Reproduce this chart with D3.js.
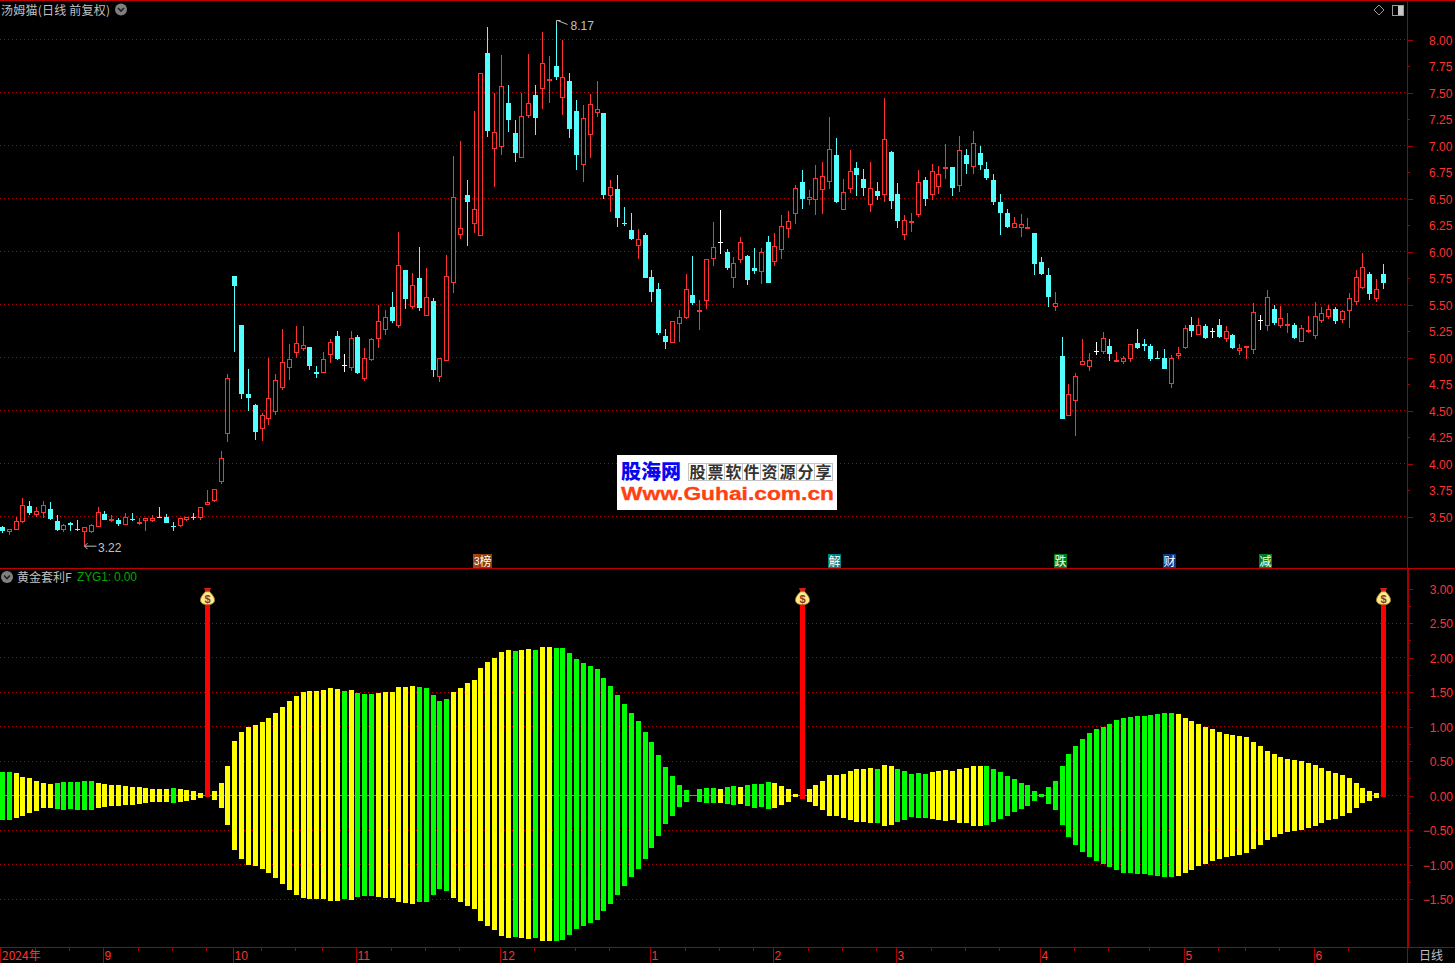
<!DOCTYPE html>
<html lang="zh">
<head>
<meta charset="utf-8">
<title>汤姆猫 黄金套利F</title>
<script src="https://cdn.jsdelivr.net/npm/d3@7/dist/d3.min.js"></script>
<style>
html,body{margin:0;padding:0;background:#000;overflow:hidden}
svg{display:block}
text{font-family:"Liberation Sans",Arial,sans-serif}
.cjk{font-family:"Noto Sans CJK SC","Noto Sans",sans-serif}
</style>
</head>
<body>
<script>
const candleOpen=[
3.40,3.35,3.37,3.45,3.60,3.51,3.53,3.57,3.46,3.37,
3.44,3.38,3.35,3.35,3.40,3.52,3.46,3.47,3.42,3.48,
3.44,3.46,3.46,3.50,3.50,3.41,3.41,3.47,3.50,3.49,
3.61,3.65,3.83,4.28,5.77,5.31,4.66,4.55,4.33,4.42,
4.49,4.71,4.90,5.04,5.08,5.10,4.86,4.85,5.02,5.20,
4.93,4.90,5.19,4.80,4.98,5.17,5.26,5.48,5.30,5.83,
5.48,5.75,5.39,5.53,4.82,4.97,5.70,6.16,6.53,6.26,
6.15,7.87,6.97,6.99,7.40,7.12,6.88,7.28,7.48,7.53,
7.61,7.75,7.45,7.61,7.33,6.82,7.10,7.31,7.31,6.52,
6.59,6.27,6.20,6.05,6.16,5.76,5.65,5.20,5.14,5.32,
5.37,5.59,5.43,5.53,5.93,6.09,6.00,5.75,5.92,5.96,
5.84,5.81,6.09,5.90,6.01,6.21,6.35,6.66,6.49,6.49,
6.58,6.66,6.91,6.39,6.59,6.79,6.68,6.44,6.57,6.53,
6.94,6.54,6.16,6.27,6.34,6.67,6.53,6.61,6.78,6.80,
6.62,6.91,6.80,6.93,6.78,6.67,6.47,6.36,6.22,6.22,
6.21,6.17,5.90,5.78,5.48,5.01,4.45,4.59,4.93,4.91,
5.06,5.05,5.11,4.96,4.96,4.99,5.14,5.13,5.11,5.00,
5.00,4.75,5.01,5.09,5.31,5.21,5.30,5.25,5.31,5.17,
5.21,5.06,5.09,5.07,5.35,5.30,5.46,5.30,5.31,5.31,
5.15,5.24,5.20,5.34,5.38,5.46,5.35,5.44,5.52,5.66,
5.79,5.55,5.79];
const candleClose=[
3.36,3.38,3.46,3.61,3.53,3.55,3.61,3.48,3.37,3.42,
3.42,3.37,3.40,3.42,3.54,3.47,3.48,3.43,3.50,3.47,
3.45,3.49,3.49,3.49,3.44,3.40,3.49,3.50,3.49,3.59,
3.64,3.76,4.05,4.81,5.67,4.66,4.62,4.30,4.46,4.62,
4.79,4.96,4.99,5.14,5.12,4.92,4.84,4.99,5.15,4.99,
4.93,5.18,4.85,5.00,5.17,5.34,5.38,5.34,5.87,5.55,
5.68,5.47,5.57,4.88,5.00,5.77,6.51,6.22,6.47,6.40,
7.68,7.14,7.13,7.56,7.24,6.93,7.28,7.40,7.26,7.78,
7.63,7.65,7.65,7.16,6.91,7.26,7.39,7.34,6.53,6.61,
6.32,6.26,6.12,6.12,5.75,5.62,5.23,5.15,5.34,5.38,
5.65,5.51,5.45,5.93,6.04,6.09,5.84,5.89,6.09,5.73,
5.82,6.00,5.70,6.05,6.24,6.29,6.60,6.50,6.51,6.69,
6.71,6.97,6.47,6.56,6.76,6.72,6.60,6.60,6.52,7.06,
6.48,6.29,6.30,6.29,6.66,6.50,6.76,6.73,6.80,6.60,
6.96,6.83,7.02,6.82,6.69,6.47,6.36,6.23,6.27,6.26,
6.23,5.88,5.79,5.57,5.51,4.42,4.66,4.83,4.97,4.98,
5.06,5.18,5.03,4.98,5.00,5.13,5.09,5.11,4.99,4.99,
4.89,5.00,5.04,5.28,5.25,5.31,5.18,5.25,5.19,5.25,
5.09,5.09,5.11,5.43,5.35,5.57,5.33,5.37,5.32,5.18,
5.28,5.26,5.39,5.42,5.46,5.34,5.44,5.56,5.76,5.85,
5.60,5.65,5.70];
const candleHigh=[
3.41,3.38,3.50,3.67,3.65,3.59,3.65,3.64,3.51,3.43,
3.45,3.47,3.40,3.43,3.59,3.55,3.51,3.49,3.53,3.53,
3.49,3.49,3.51,3.59,3.52,3.45,3.49,3.50,3.53,3.59,
3.75,3.76,4.12,4.84,5.77,5.31,4.89,4.56,4.48,5.00,
4.84,5.27,5.13,5.30,5.30,5.10,4.92,5.05,5.17,5.25,
5.03,5.25,5.21,5.09,5.18,5.50,5.45,5.62,6.18,5.83,
5.80,6.04,5.84,5.56,5.00,5.97,6.90,7.04,6.67,7.33,
7.68,8.12,7.50,7.85,7.57,7.24,7.50,7.86,7.57,8.07,
7.84,8.17,8.00,7.68,7.43,7.38,7.49,7.61,7.31,6.67,
6.72,6.42,6.36,6.21,6.17,5.83,5.70,5.27,5.34,5.45,
5.79,5.96,5.54,5.93,6.28,6.39,6.02,5.95,6.14,5.97,
6.03,6.03,6.15,6.17,6.34,6.38,6.63,6.77,6.58,6.82,
6.84,7.27,7.07,6.68,6.96,6.84,6.78,6.84,6.66,7.45,
6.95,6.65,6.34,6.36,6.77,6.70,6.83,6.81,7.01,6.80,
7.09,6.97,7.14,7.00,6.84,6.73,6.54,6.40,6.33,6.35,
6.32,6.17,5.95,5.84,5.62,5.19,4.75,4.85,5.17,5.04,
5.15,5.24,5.17,5.05,5.01,5.13,5.27,5.17,5.13,5.06,
5.08,5.02,5.10,5.31,5.38,5.37,5.32,5.28,5.36,5.30,
5.22,5.13,5.11,5.51,5.40,5.64,5.50,5.49,5.42,5.33,
5.31,5.39,5.52,5.48,5.50,5.48,5.45,5.61,5.83,5.99,
5.81,5.74,5.88];
const candleLow=[
3.34,3.33,3.37,3.44,3.51,3.50,3.49,3.47,3.36,3.35,
3.36,3.36,3.22,3.34,3.40,3.47,3.45,3.41,3.42,3.46,
3.42,3.36,3.45,3.49,3.44,3.36,3.40,3.46,3.47,3.47,
3.61,3.64,3.81,4.20,5.05,4.61,4.50,4.22,4.21,4.36,
4.46,4.69,4.79,5.00,5.06,4.88,4.81,4.85,4.95,4.98,
4.86,4.87,4.84,4.78,4.97,5.09,5.21,5.33,5.28,5.46,
5.46,5.44,5.39,4.82,4.77,4.97,5.61,6.12,6.05,6.17,
6.15,7.08,6.61,6.91,7.13,6.84,6.88,7.26,7.10,7.34,
7.40,7.62,7.29,7.07,6.77,6.66,6.88,7.27,6.50,6.37,
6.23,6.24,6.11,5.93,5.75,5.52,5.21,5.08,5.14,5.15,
5.36,5.50,5.26,5.46,5.86,5.98,5.83,5.66,5.89,5.68,
5.79,5.69,5.70,5.86,5.93,6.13,6.26,6.40,6.44,6.34,
6.35,6.59,6.46,6.39,6.55,6.52,6.52,6.37,6.49,6.47,
6.40,6.22,6.11,6.18,6.33,6.43,6.49,6.54,6.68,6.52,
6.56,6.73,6.73,6.77,6.67,6.44,6.16,6.22,6.22,6.14,
6.21,5.78,5.78,5.48,5.44,4.42,4.45,4.26,4.93,4.87,
5.02,5.03,4.97,4.96,4.94,4.96,5.08,5.06,4.97,4.99,
4.89,4.71,4.99,5.08,5.19,5.21,5.17,5.18,5.18,5.15,
5.08,5.02,4.99,5.03,5.26,5.25,5.31,5.28,5.23,5.17,
5.15,5.23,5.17,5.33,5.36,5.32,5.33,5.28,5.50,5.65,
5.54,5.52,5.65];

const zygUp=[
.34,.34,.32,.27,.25,.21,.18,.16,.18,.19,
.19,.19,.21,.21,.18,.16,.15,.15,.14,.12,
.12,.11,.09,.09,.09,.11,.09,.08,.06,.03,
0,.06,.18,.43,.79,.92,1.00,1.02,1.06,1.12,
1.19,1.28,1.37,1.44,1.50,1.51,1.51,1.53,1.56,1.54,
1.51,1.53,1.48,1.47,1.47,1.48,1.50,1.50,1.57,1.57,
1.58,1.57,1.56,1.45,1.37,1.40,1.50,1.56,1.63,1.67,
1.85,1.93,1.99,2.08,2.11,2.09,2.11,2.12,2.11,2.15,
2.15,2.14,2.14,2.06,1.98,1.92,1.87,1.83,1.70,1.58,
1.45,1.32,1.19,1.08,.92,.77,.58,.41,.28,.15,
.08,0,.09,.11,.11,.09,.12,.14,.12,.15,
.16,.16,.19,.18,.14,.09,.02,0,.09,.15,
.21,.29,.29,.31,.35,.38,.38,.40,.38,.44,
.43,.38,.35,.31,.32,.31,.34,.35,.37,.35,
.38,.40,.43,.43,.43,.38,.34,.28,.24,.18,
.15,.06,.02,.12,.21,.43,.60,.72,.82,.91,
.96,.99,1.04,1.09,1.12,1.14,1.15,1.15,1.17,1.18,
1.20,1.20,1.18,1.12,1.08,1.04,.99,.96,.92,.89,
.88,.86,.85,.78,.72,.64,.60,.56,.53,.51,
.50,.47,.44,.40,.36,.33,.30,.25,.18,.11,
.07,.04,0];
const zygDown=[
.35,.35,.33,.29,.26,.23,.18,.18,.20,.21,
.20,.21,.21,.21,.18,.17,.15,.15,.14,.14,
.13,.11,.10,.10,.10,.11,.10,.08,.07,.04,
0,.07,.18,.43,.79,.92,1.00,1.02,1.06,1.12,
1.19,1.28,1.37,1.44,1.49,1.50,1.50,1.50,1.53,1.53,
1.50,1.52,1.47,1.46,1.46,1.47,1.49,1.49,1.55,1.56,
1.57,1.55,1.55,1.44,1.36,1.39,1.49,1.55,1.60,1.65,
1.82,1.89,1.95,2.04,2.07,2.05,2.07,2.08,2.07,2.11,
2.11,2.11,2.10,2.02,1.94,1.89,1.85,1.81,1.68,1.57,
1.44,1.31,1.18,1.07,.92,.76,.59,.42,.29,.17,
.10,0,.10,.11,.11,.11,.13,.14,.13,.15,
.18,.17,.20,.18,.14,.10,.02,0,.10,.15,
.21,.30,.30,.33,.36,.39,.39,.40,.40,.44,
.43,.39,.36,.31,.33,.33,.34,.36,.37,.36,
.40,.40,.44,.44,.43,.39,.34,.29,.24,.20,
.15,.08,.02,.13,.21,.43,.60,.72,.82,.89,
.95,.99,1.04,1.08,1.12,1.12,1.14,1.14,1.15,1.17,
1.18,1.18,1.17,1.12,1.08,1.02,.99,.95,.92,.89,
.88,.86,.83,.78,.72,.64,.60,.56,.53,.51,
.50,.47,.44,.40,.36,.34,.30,.25,.18,.11,
.08,.04,0];
const zygYellow=[
0,0,1,1,1,1,1,1,0,0,
0,0,0,0,1,1,1,1,1,1,
1,1,1,1,1,0,1,1,1,1,
1,1,1,1,1,1,1,1,1,1,
1,1,1,1,1,1,1,1,1,1,
0,1,0,0,0,1,1,1,1,1,
1,0,0,0,0,0,1,1,1,1,
1,1,1,1,1,0,1,1,0,1,
1,0,0,0,0,0,0,0,0,0,
0,0,0,0,0,0,0,0,0,0,
0,0,0,0,0,1,0,0,1,0,
0,0,0,1,1,1,1,1,1,1,
1,1,1,1,1,1,1,1,0,1,
1,0,0,0,0,0,1,1,1,1,
1,1,1,1,0,0,0,0,0,0,
0,0,0,0,0,0,0,0,0,0,
0,0,0,0,0,0,0,0,0,0,
0,0,1,1,1,1,1,1,1,1,
1,1,1,1,1,1,1,1,1,1,
1,1,1,1,1,1,1,1,1,1,
1,1,1];

const signalBars=[30,117,202];
const signalTop=[2.78,2.78,2.78];
const signalBottom=[-0.02,-0.05,-0.02];

const priceTicks=[8,7.75,7.5,7.25,7,6.75,6.5,6.25,6,5.75,5.5,5.25,5,4.75,4.5,4.25,4,3.75,3.5];
const priceGrid=[8,7.5,7,6.5,6,5.5,5,4.5,4,3.5];
const zygTicks=[3,2.5,2,1.5,1,.5,0,-.5,-1,-1.5];
const zygMinorTicks=[2.75,2.25,1.75,1.25,.75,.25,-.25,-.75,-1.25];
const zygGrid=[2.5,2,1.5,1,.5,0,-.5,-1,-1.5];
const monthBars=[15,34,52,73,95,113,131,152,173,192];
const monthLabels=["9","10","11","12","1","2","3","4","5","6"];
const weekBars=[5,10,20,25,30,38,43,47,57,62,67,78,84,89,100,105,110,118,123,128,136,141,146,157,162,168,178,182,187,197];
const eventBars=[70,121,154,170,184];
const eventLabels=["榜","解","跌","财","减"];
const logoTagChars=["股","票","软","件","资","源","分","享"];

const W=1455,H=963;
const PANEL_R=1407, MID=568.5, BASE=947.5;
const RED="#ff3232", CYAN="#54ffff", AXIS="#a80000", GRID="#b80000", GREY="#c0c0c0";

const svg=d3.select("body").append("svg").attr("width",W).attr("height",H).attr("viewBox",`0 0 ${W} ${H}`);
svg.append("rect").attr("width",W).attr("height",H).attr("fill","#000");

const xPos=d3.scaleLinear().domain([0,202]).range([0.33,1381.4]);
const left=i=>Math.floor(xPos(i));
const yP=d3.scaleLinear().domain([8,3.5]).range([39.5,516.5]);
const yZ=d3.scaleLinear().domain([0,1]).range([795.5,726.5]);

const crisp=svg.append("g").attr("shape-rendering","crispEdges");

// grids
function hGrid(vals,scale){
  crisp.append("g").selectAll("line").data(vals).join("line")
    .attr("x1",0).attr("x2",PANEL_R)
    .attr("y1",d=>Math.floor(scale(d))+.5).attr("y2",d=>Math.floor(scale(d))+.5)
    .attr("stroke",GRID).attr("stroke-width",1).attr("stroke-dasharray","1 3");
}
hGrid(priceGrid,yP);
hGrid(zygGrid,yZ);

// candles
const idx=d3.range(candleOpen.length);
const colorOf=i=>candleClose[i]>candleOpen[i]?RED:candleClose[i]<candleOpen[i]?CYAN:"#fff";
const gC=crisp.append("g");
gC.selectAll("line.w").data(idx).join("line").attr("class","w")
  .attr("x1",i=>left(i)+2.5).attr("x2",i=>left(i)+2.5)
  .attr("y1",i=>Math.round(yP(candleHigh[i]))).attr("y2",i=>Math.round(yP(candleLow[i])))
  .attr("stroke",colorOf);
gC.selectAll("rect.b").data(idx).join("rect").attr("class","b")
  .each(function(i){
    const t=Math.round(yP(Math.max(candleOpen[i],candleClose[i])));
    const b=Math.round(yP(Math.min(candleOpen[i],candleClose[i])));
    const c=colorOf(i), sel=d3.select(this);
    if(c===RED){
      sel.attr("x",left(i)+.5).attr("width",4).attr("y",t+.5).attr("height",Math.max(b-t-1,1))
         .attr("fill","#000").attr("stroke",RED).attr("stroke-width",1);
    }else{
      sel.attr("x",left(i)).attr("width",5).attr("y",t).attr("height",Math.max(b-t,1)).attr("fill",c);
    }
  });

// zero line
crisp.append("line").attr("x1",0).attr("x2",left(201)+5)
  .attr("y1",Math.floor(yZ(0))+.5).attr("y2",Math.floor(yZ(0))+.5)
  .attr("stroke","#3cc000");

// zyg bars
crisp.append("g").selectAll("rect").data(idx.filter(i=>zygUp[i]+zygDown[i]>0)).join("rect")
  .attr("x",i=>left(i)).attr("width",5)
  .attr("y",i=>Math.round(yZ(zygUp[i])))
  .attr("height",i=>Math.round(yZ(-zygDown[i]))-Math.round(yZ(zygUp[i])))
  .attr("fill",i=>zygYellow[i]?"#ffff00":"#00ff00");

// signal sticks
crisp.append("g").selectAll("rect").data(signalBars).join("rect")
  .attr("x",i=>left(i)).attr("width",5)
  .attr("y",(i,k)=>Math.round(yZ(signalTop[k])))
  .attr("height",(i,k)=>Math.round(yZ(signalBottom[k]))-Math.round(yZ(signalTop[k])))
  .attr("fill","#ff0000");

// money bags
const bags=svg.append("g").selectAll("g").data(signalBars).join("g")
  .attr("transform",(i,k)=>`translate(${left(i)+2.5},${yZ(signalTop[k])-6})`);
bags.append("path").attr("d","M-3.5,-9.8 L3.5,-9.8 L1.8,-5.5 L-1.8,-5.5 Z").attr("fill","#d02010");
bags.append("path").attr("d","M-2,-6 L2,-6 C5,-3 7.4,0 7,3 C6.6,6 3.5,6.9 0,6.9 C-3.5,6.9 -6.6,6 -7,3 C-7.4,0 -5,-3 -2,-6 Z")
  .attr("fill","#ffeb8c").attr("stroke","#b08020").attr("stroke-width",.9);
bags.append("text").attr("text-anchor","middle").attr("y",5).attr("font-size",11).attr("font-weight","bold").attr("fill","#8a3a28").text("$");

// frame
const frame=crisp.append("g").attr("stroke",AXIS).attr("fill","none");
frame.append("line").attr("x1",0).attr("x2",W).attr("y1",.5).attr("y2",.5).attr("stroke","#c00000");
frame.append("line").attr("x1",0).attr("x2",W).attr("y1",MID).attr("y2",MID).attr("stroke","#c00000");
frame.append("line").attr("x1",0).attr("x2",W).attr("y1",BASE).attr("y2",BASE);
frame.append("line").attr("x1",PANEL_R+.5).attr("x2",PANEL_R+.5).attr("y1",0).attr("y2",MID);
frame.append("line").attr("x1",PANEL_R+1).attr("x2",PANEL_R+1).attr("y1",MID).attr("y2",BASE).attr("stroke-width",2);
frame.append("line").attr("x1",PANEL_R+.5).attr("x2",PANEL_R+.5).attr("y1",BASE).attr("y2",H);

// right axes
function styleAxis(g,isMajor,tickLen,minorLen){
  g.select(".domain").remove();
  g.selectAll(".tick line").attr("stroke",AXIS).attr("shape-rendering","crispEdges")
    .attr("x2",d=>isMajor(d)?tickLen:minorLen);
  g.selectAll(".tick text").attr("fill",RED).attr("font-size",12).attr("dy","0.4em").attr("font-family",'"Liberation Sans",Arial,sans-serif');
}
const axP=d3.axisRight(yP).tickValues(priceTicks).tickFormat(d3.format(".2f")).tickSize(5).tickPadding(0);
svg.append("g").attr("transform",`translate(${PANEL_R+1},0)`).call(axP).call(g=>{
  styleAxis(g,d=>priceGrid.includes(d),5,2);
  g.selectAll(".tick text").attr("x",21);
});
const axZ=d3.axisRight(yZ).tickValues(zygTicks).tickFormat(d3.format(".2f")).tickSize(5);
svg.append("g").attr("transform",`translate(${PANEL_R+2},0)`).call(axZ).call(g=>{
  styleAxis(g,()=>true,4,4);
  g.selectAll(".tick text").attr("text-anchor","end").attr("x",44);
});
const axZm=d3.axisRight(yZ).tickValues(zygMinorTicks).tickFormat("").tickSize(2);
svg.append("g").attr("transform",`translate(${PANEL_R+2},0)`).call(axZm).call(g=>{
  styleAxis(g,()=>false,2,2);
});

// date axis
const xM=d=>left(d)+1.5;
crisp.append("g").selectAll("line").data(weekBars).join("line")
  .attr("x1",xM).attr("x2",xM).attr("y1",BASE).attr("y2",BASE+3).attr("stroke",AXIS);
crisp.append("g").selectAll("line").data(monthBars).join("line")
  .attr("x1",xM).attr("x2",xM).attr("y1",BASE).attr("y2",H).attr("stroke",AXIS);
crisp.append("line").attr("x1",.5).attr("x2",.5).attr("y1",BASE).attr("y2",H).attr("stroke",AXIS);
svg.append("g").selectAll("text").data(monthBars).join("text")
  .attr("x",xM).attr("dx",1).attr("y",960).attr("font-size",12).attr("fill",RED)
  .text((d,k)=>monthLabels[k]);
svg.append("text").attr("class","cjk").attr("x",2).attr("y",960).attr("font-size",12).attr("fill",RED).text("2024年");
svg.append("text").attr("class","cjk").attr("x",1419).attr("y",960).attr("font-size",12).attr("fill",GREY).text("日线");

// titles
svg.append("text").attr("class","cjk").attr("x",1).attr("y",15).attr("font-size",12).attr("fill",GREY)
  .attr("textLength",109).attr("lengthAdjust","spacing").text("汤姆猫(日线 前复权)");
function chevron(x,y){
  svg.append("circle").attr("cx",x).attr("cy",y).attr("r",6).attr("fill","#808080");
  svg.append("path").attr("d",`M${x-3},${y-1.5} L${x},${y+1.5} L${x+3},${y-1.5}`).attr("fill","none").attr("stroke","#202020").attr("stroke-width",1.6);
}
chevron(121,9.5);
chevron(7,577);
svg.append("text").attr("class","cjk").attr("x",17).attr("y",582).attr("font-size",12).attr("fill",GREY).text("黄金套利F");
svg.append("text").attr("x",77).attr("y",581).attr("font-size",12).attr("fill","#00a800")
  .attr("textLength",60).attr("lengthAdjust","spacing").text("ZYG1: 0.00");

// top right icons
svg.append("path").attr("d","M1379,5 L1384,10 L1379,15 L1374,10 Z").attr("fill","none").attr("stroke","#9a9a9a");
crisp.append("rect").attr("x",1392.5).attr("y",5.5).attr("width",11).attr("height",10).attr("fill","none").attr("stroke","#9a9a9a");
crisp.append("rect").attr("x",1398).attr("y",6).attr("width",5).attr("height",9).attr("fill","#c8c8c8");

// high / low markers
const hiBar=candleHigh.indexOf(d3.max(candleHigh));
const loBar=candleLow.indexOf(d3.min(candleLow));
const hx=left(hiBar)+2.5, hy=yP(candleHigh[hiBar]);
svg.append("path").attr("d",`M${hx},${hy-1} L${hx+4},${hy-1} M${hx+1},${hy-1} L${hx+11},${hy+3} M${hx},${hy-1} L${hx},${hy+3}`)
  .attr("fill","none").attr("stroke",GREY).attr("stroke-width",1);
svg.append("text").attr("x",hx+14).attr("y",hy+9).attr("font-size",12).attr("fill",GREY).text(candleHigh[hiBar].toFixed(2));
const lx=left(loBar)+2.5, ly=yP(candleLow[loBar]);
svg.append("path").attr("d",`M${lx},${ly} L${lx+12},${ly} M${lx},${ly} L${lx+3},${ly-3} M${lx},${ly} L${lx+3},${ly+3}`)
  .attr("fill","none").attr("stroke",GREY).attr("stroke-width",1);
svg.append("text").attr("x",lx+13.5).attr("y",ly+6).attr("font-size",12).attr("fill",GREY).text(candleLow[loBar].toFixed(2));

// event tags
const evFill=["#8a3c12","#008080","#067a1a","#0a3a90","#067a1a"];
svg.append("rect").attr("x",473).attr("y",554).attr("width",7).attr("height",14).attr("fill","#a04414");
svg.append("text").attr("x",474).attr("y",565).attr("font-size",10).attr("fill","#fff").text("3");
const evG=svg.append("g").selectAll("g").data(eventBars).join("g")
  .attr("transform",d=>`translate(${Math.floor(xPos(d))+1},554)`);
evG.append("rect").attr("width",13).attr("height",14).attr("fill",(d,k)=>evFill[k]);
evG.append("text").attr("class","cjk").attr("x",.5).attr("y",11.5).attr("font-size",12).attr("fill","#fff").text((d,k)=>eventLabels[k]);

// logo
const logo=svg.append("g");
logo.append("rect").attr("x",617).attr("y",455).attr("width",220).attr("height",55).attr("fill","#fff");
logo.append("text").attr("class","cjk").attr("x",621).attr("y",479).attr("font-size",20).attr("font-weight","900").attr("fill","#0808f0").text("股海网");
const cell=18;
logo.selectAll("rect.c").data(logoTagChars).join("rect").attr("class","c")
  .attr("x",(d,k)=>688.5+k*cell).attr("y",463.5).attr("width",cell).attr("height",17)
  .attr("fill","#fff").attr("stroke","#c4c4c4").attr("stroke-width",1);
logo.selectAll("text.c").data(logoTagChars).join("text").attr("class","cjk c")
  .attr("x",(d,k)=>697.5+k*cell).attr("y",478).attr("text-anchor","middle")
  .attr("font-size",16).attr("font-weight","700").attr("fill","#333").text(d=>d);
logo.append("text").attr("x",621).attr("y",500).attr("font-size",18).attr("font-weight","bold")
  .attr("textLength",213).attr("lengthAdjust","spacingAndGlyphs").attr("fill","#ff4010")
  .attr("stroke","#ff4010").attr("stroke-width",.3).text("Www.Guhai.com.cn");
</script>
</body>
</html>
